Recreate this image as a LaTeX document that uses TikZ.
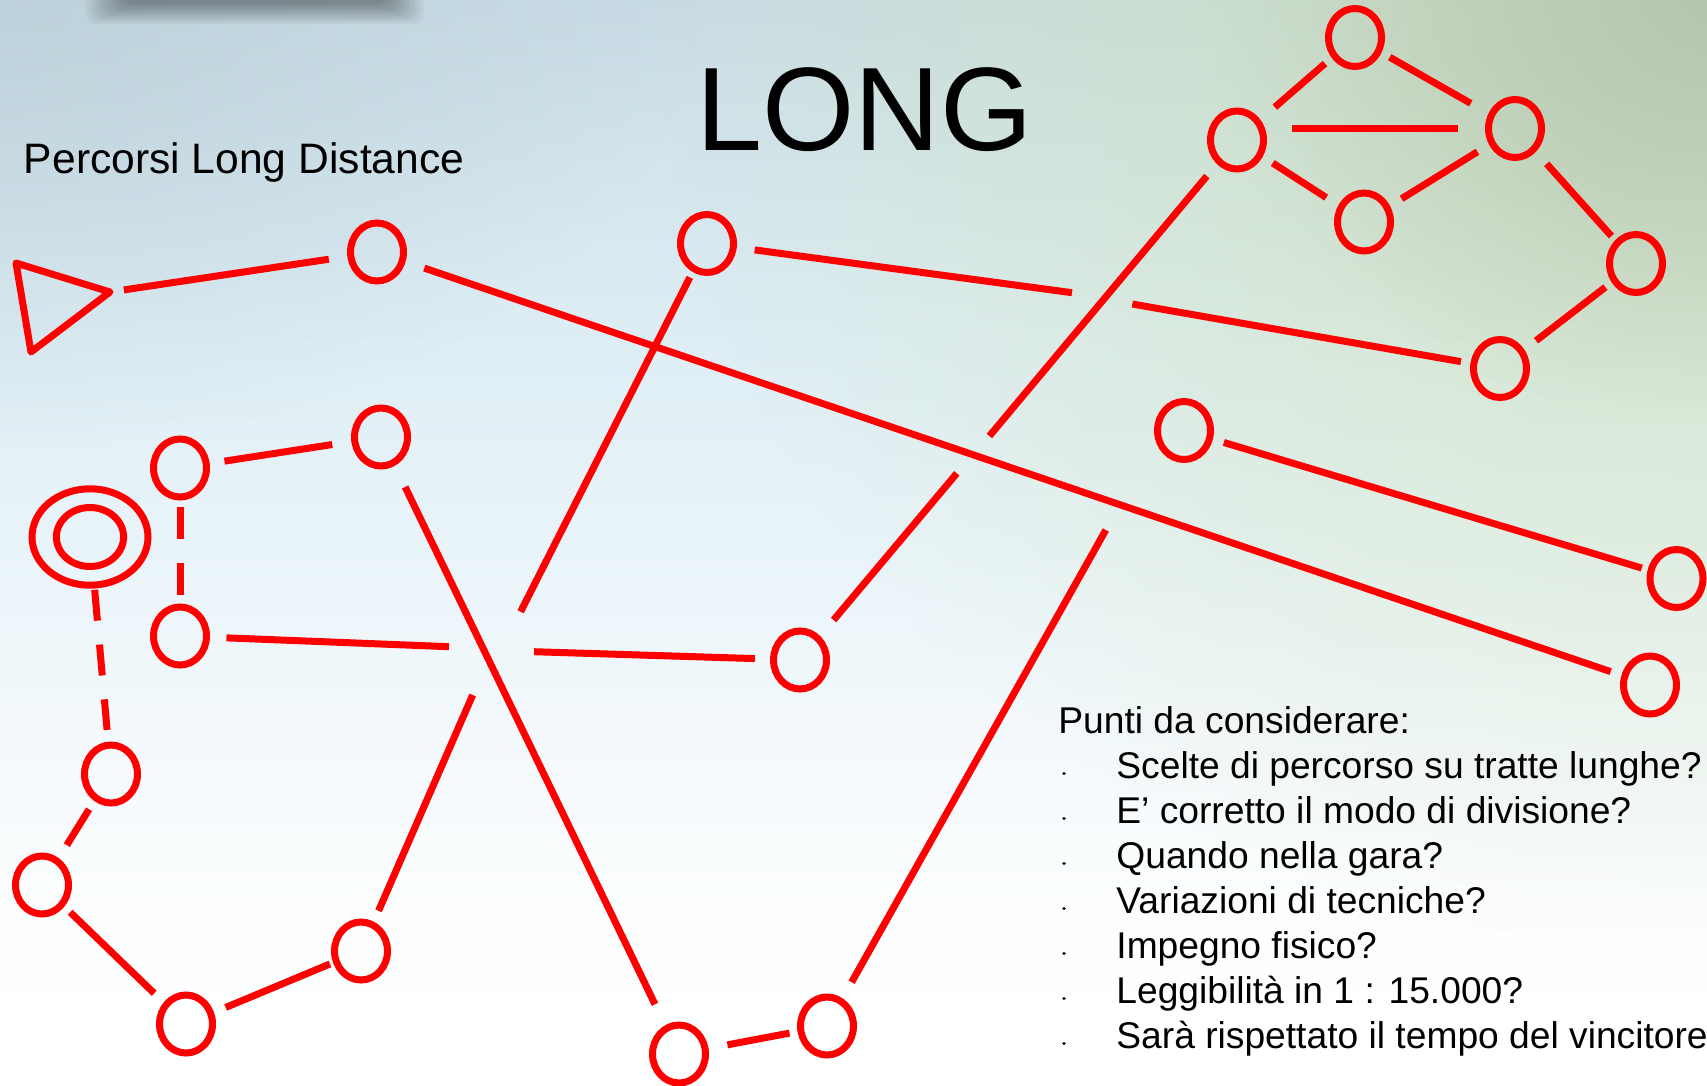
\documentclass[tikz,border=0pt]{standalone}
\usepackage{fontspec}
\setmainfont{Liberation Sans}
\usetikzlibrary{shapes.geometric,fadings}

% background palette
\definecolor{bgY0}{HTML}{C9DCE5}
\definecolor{bgY1}{HTML}{D2E4EC}
\definecolor{bgY2}{HTML}{DFEEF5}
\definecolor{bgY3}{HTML}{E9F4F9}
\definecolor{bgY4}{HTML}{F4F9FC}
\definecolor{bgY5}{HTML}{FCFEFE}
\definecolor{bgCornerTL}{HTML}{B9CDD6}
\definecolor{bgGreenWide}{HTML}{D0E2B8}
\definecolor{bgGreenCorner}{HTML}{B2C2AE}
\definecolor{routeRed}{HTML}{FF0000}

% vertical sky-to-white wash (25bp = bottom edge, 75bp = top edge)
\pgfdeclareverticalshading{skywash}{100bp}{%
  color(0bp)=(white); color(25bp)=(white); color(33.6bp)=(bgY5);
  color(40.5bp)=(bgY4); color(49.7bp)=(bgY3); color(58.9bp)=(bgY2);
  color(68.1bp)=(bgY1); color(75bp)=(bgY0); color(100bp)=(bgY0)}

\tikzfading[name=softdisc, inner color=transparent!0, outer color=transparent!100]

\begin{document}
\begin{tikzpicture}[x=0.5pt, y=-0.5pt,
  stop/.style={ellipse, draw=routeRed, line width=3.5pt,
    minimum width=26.5pt, minimum height=29pt, inner sep=0pt},
  leg/.style={draw=routeRed, line width=3.5pt},
  dashleg/.style={leg, dash pattern=on 15.5pt off 12pt},
  dashlegshort/.style={leg, dash pattern=on 16pt off 12pt},
  bigtext/.style={anchor=base west, inner sep=0pt, font=\fontsize{59.35pt}{62pt}\selectfont},
  subtitle/.style={anchor=base west, inner sep=0pt, font=\fontsize{21.3pt}{24pt}\selectfont},
  listtext/.style={anchor=base west, inner sep=0pt, font=\fontsize{18.6pt}{22pt}\selectfont},
]
\useasboundingbox (0,0) rectangle (1707,1086);

% ---- background ----
\shade[shading=skywash] (0,0) rectangle (1707,1086);
\begin{scope}
  \clip (0,0) rectangle (1707,1086);
  \fill[bgCornerTL, fill opacity=0.7, path fading=softdisc] (0,0) ellipse[x radius=700, y radius=450];
  \fill[bgGreenWide, fill opacity=0.85, path fading=softdisc] (1707,0) ellipse[x radius=1050, y radius=950];
  \fill[bgGreenCorner, fill opacity=0.9, path fading=softdisc] (1707,0) ellipse[x radius=500, y radius=420];
  % soft shadow along the top edge
  \foreach \k in {0,...,11}
    \fill[black, opacity=0.035, rounded corners=5pt] (86+3.5*\k,-20) rectangle (424-3.5*\k, 24-1.9*\k);
\end{scope}

% ---- texts ----
\node[bigtext] (title) at (696,150) {LONG};
\node[subtitle] (subtitle) at (23.5,173) {Percorsi Long Distance};
\node[listtext] (head) at (1058,733.5) {Punti da considerare:};
\foreach \txt [count=\i] in {Scelte di percorso su tratte lunghe?,
    E’ corretto il modo di divisione?,
    Quando nella gara?,
    Variazioni di tecniche?,
    Impegno fisico?,
    Leggibilità in 1 : 15.000?,
    Sarà rispettato il tempo del vincitore}{
  \node[listtext] (item\i) at (1116,733.5+45*\i) {\txt};
  \fill (1064,728.5+45*\i) ellipse[x radius=1.8, y radius=1.5];
}

% ---- start triangle ----
\coordinate (triN) at (16,263);
\coordinate (tri) at (110,292);
\coordinate (triS) at (31,352);
\draw[leg, line join=round] (triN) -- (tri) -- (triS) -- cycle;

% ---- finish ----
\node[ellipse, draw=routeRed, line width=3.5pt, minimum width=58pt, minimum height=48.2pt, inner sep=0pt] (fin) at (90,537) {};
\node[ellipse, draw=routeRed, line width=3.5pt, minimum width=33.6pt, minimum height=29.5pt, inner sep=0pt] (finIn) at (90,537) {};

% ---- controls ----
\node[stop] (A) at (377,252) {};
\node[stop] (G) at (707,243.5) {};
\node[stop] (B) at (180,468) {};
\node[stop] (C) at (381,437) {};
\node[stop] (E) at (180,636) {};
\node[stop] (F) at (800,660) {};
\node[stop] (D) at (111,774) {};
\node[stop] (H) at (42,885) {};
\node[stop] (I) at (186,1024) {};
\node[stop] (J) at (361,951) {};
\node[stop] (K) at (679,1054) {};
\node[stop] (L) at (827,1026) {};
\node[stop] (M) at (1184,430.5) {};
\node[stop] (N) at (1676.5,578.5) {};
\node[stop] (O) at (1650,685) {};
\node[stop] (T1) at (1355,37.5) {};
\node[stop] (T2) at (1237,140) {};
\node[stop] (T3) at (1515,128.5) {};
\node[stop] (T4) at (1364,222) {};
\node[stop] (T5) at (1636,263.5) {};
\node[stop] (T6) at (1500,368.5) {};

% break points where legs pass under other legs
\coordinate (g6a) at (1072,292.7);
\coordinate (g6b) at (1132.3,304);
\coordinate (gj1) at (520.6,611.7);
\coordinate (gj2) at (472.7,695);
\coordinate (ef1) at (449,646.7);
\coordinate (ef2) at (534,651.7);
\coordinate (ft1) at (956.8,473.3);
\coordinate (ft2) at (989.4,436);
\coordinate (lend) at (1105.8,530);

% ---- legs ----
\draw[leg, shorten <=7pt, shorten >=24.35pt] (tri) -- (A.center);
\draw[leg, shorten <=25pt, shorten >=20.8pt] (A.center) -- (O.center);
\draw[leg, shorten <=24.05pt] (G.center) -- (g6a);
\draw[leg, shorten >=19.85pt] (g6b) -- (T6.center);
\draw[leg, shorten <=19pt] (G.center) -- (gj1);
\draw[leg, shorten >=21.95pt] (gj2) -- (J.center);
\draw[leg, shorten <=27.75pt, shorten >=27.6pt] (C.center) -- (K.center);
\draw[leg, shorten <=23.25pt] (E.center) -- (ef1);
\draw[leg, shorten >=22.6pt] (ef2) -- (F.center);
\draw[leg, shorten <=26.1pt] (F.center) -- (ft1);
\draw[leg, shorten >=23.5pt] (ft2) -- (T2.center);
\draw[leg, shorten <=25.15pt] (L.center) -- (lend);
\draw[leg, shorten <=24.65pt, shorten >=19.05pt] (K.center) -- (L.center);
\draw[leg, shorten <=16.8pt, shorten >=21.5pt] (J.center) -- (I.center);
\draw[leg, shorten <=22.1pt, shorten >=19.6pt] (I.center) -- (H.center);
\draw[leg, shorten <=20.75pt, shorten >=23.5pt] (D.center) -- (H.center);
\draw[dashleg, shorten <=26.5pt, shorten >=22.15pt] (fin.center) -- (D.center);
\draw[dashlegshort, shorten <=19.5pt, shorten >=20.5pt] (B.center) -- (E.center);
\draw[leg, shorten <=22.5pt, shorten >=24.65pt] (B.center) -- (C.center);
\draw[leg, shorten <=20.8pt, shorten >=18.15pt] (M.center) -- (N.center);

% loop at the top right
\draw[leg, shorten <=25.05pt, shorten >=19.85pt] (T2.center) -- (T1.center);
\draw[leg, shorten <=19.95pt, shorten >=25.45pt] (T1.center) -- (T3.center);
\draw[leg, shorten <=27.5pt, shorten >=28.35pt] (T2.center |- T3.center) -- (T3.center);
\draw[leg, shorten <=21.25pt, shorten >=22.5pt] (T2.center) -- (T4.center);
\draw[leg, shorten <=22.1pt, shorten >=22.1pt] (T4.center) -- (T3.center);
\draw[leg, shorten <=23.7pt, shorten >=18.4pt] (T3.center) -- (T5.center);
\draw[leg, shorten <=19.35pt, shorten >=22.75pt] (T5.center) -- (T6.center);
\end{tikzpicture}
\end{document}
